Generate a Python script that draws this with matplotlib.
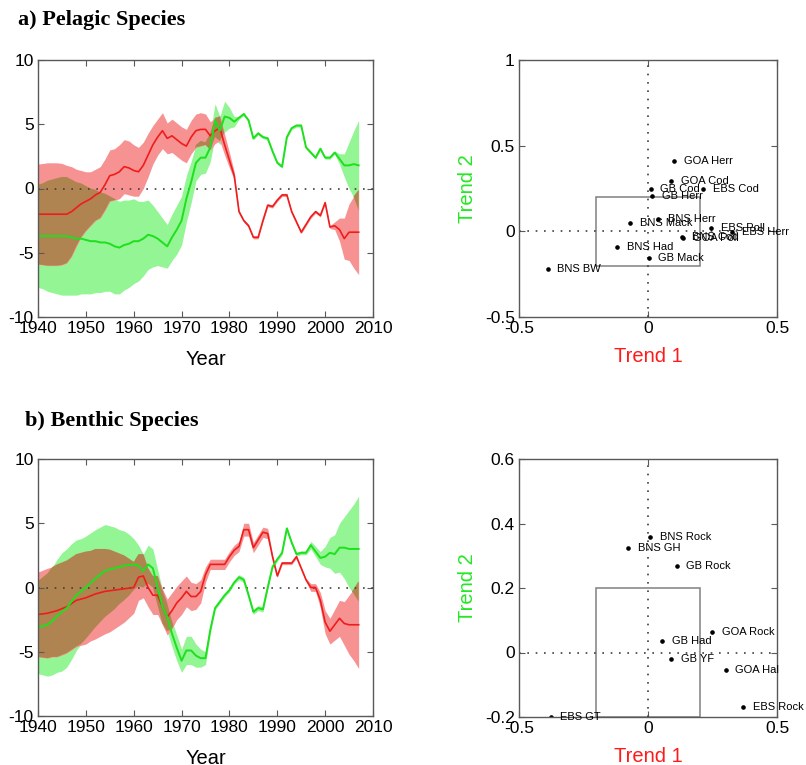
import numpy as np
import matplotlib
matplotlib.use("Agg")
from matplotlib import pyplot as plt
from matplotlib.patches import Rectangle

plt.rcParams["font.family"] = ["Liberation Sans", "DejaVu Sans"]
plt.rcParams["axes.unicode_minus"] = False

# Años de las series de tendencias
anios = np.arange(1940, 2008)

# a) Especies pelágicas: tendencias comunes y su intervalo (+/-)
pel_t1 = [-2.0, -2.0, -2.0, -2.0, -2.0, -2.0, -2.0, -1.8, -1.5, -1.2,
          -1.0, -0.8, -0.5, -0.3, 0.3, 1.0, 1.1, 1.3, 1.7, 1.6,
          1.4, 1.3, 1.8, 2.6, 3.4, 4.0, 4.5, 3.9, 4.1, 3.8,
          3.5, 3.3, 4.0, 4.5, 4.6, 4.6, 4.1, 4.5, 4.7, 3.4,
          2.2, 1.0, -1.8, -2.5, -2.9, -3.8, -3.8, -2.5, -1.3, -1.4,
          -0.9, -0.5, -0.5, -1.8, -2.6, -3.4, -2.8, -2.2, -1.8, -2.1,
          -1.1, -3.0, -2.9, -3.2, -3.9, -3.4, -3.4, -3.4]
pel_t1_ic = [3.9, 3.95, 4.0, 4.0, 4.0, 3.95, 3.8, 3.5, 3.0, 2.6,
             2.3, 2.1, 2.0, 2.0, 2.0, 2.0, 2.0, 2.1, 2.1, 2.1,
             2.0, 1.9, 1.8, 1.7, 1.5, 1.4, 1.4, 1.2, 1.3, 1.3,
             1.3, 1.3, 1.3, 1.3, 1.3, 1.2, 1.1, 1.0, 1.0, 0.8,
             0.6, 0.3, 0.12, 0.12, 0.12, 0.12, 0.12, 0.12, 0.12, 0.12,
             0.12, 0.12, 0.12, 0.12, 0.12, 0.12, 0.12, 0.12, 0.12, 0.12,
             0.12, 0.12, 0.3, 0.9, 1.6, 2.2, 2.8, 3.3]
pel_t2 = [-3.7, -3.7, -3.7, -3.7, -3.7, -3.7, -3.7, -3.8, -3.9, -3.9,
          -4.0, -4.1, -4.1, -4.2, -4.2, -4.3, -4.5, -4.6, -4.4, -4.3,
          -4.1, -4.1, -3.9, -3.6, -3.7, -3.9, -4.2, -4.5, -3.8, -3.2,
          -2.5, -0.8, 0.5, 2.0, 2.4, 2.4, 3.2, 5.3, 4.5, 5.6,
          5.5, 5.2, 5.5, 5.8, 5.3, 3.9, 4.3, 4.0, 3.9, 2.9,
          2.0, 1.7, 4.0, 4.7, 4.9, 4.9, 3.2, 2.8, 2.4, 3.1,
          2.4, 2.4, 2.8, 2.3, 1.8, 1.8, 1.9, 1.8]
pel_t2_ic = [4.0, 4.1, 4.3, 4.4, 4.5, 4.6, 4.6, 4.5, 4.4, 4.3,
             4.2, 4.1, 4.0, 3.9, 3.8, 3.7, 3.7, 3.6, 3.5, 3.4,
             3.3, 3.1, 2.9, 2.7, 2.4, 2.1, 1.9, 1.7, 1.8, 1.9,
             1.9, 1.8, 1.6, 1.4, 1.3, 1.2, 1.1, 1.3, 1.1, 1.2,
             0.8, 0.4, 0.12, 0.12, 0.12, 0.12, 0.12, 0.12, 0.12, 0.12,
             0.12, 0.12, 0.12, 0.12, 0.12, 0.12, 0.12, 0.12, 0.12, 0.12,
             0.12, 0.12, 0.12, 0.4, 0.9, 1.8, 2.6, 3.5]

# b) Especies bentónicas
ben_t1 = [-2.1, -2.05, -2.0, -1.9, -1.8, -1.65, -1.5, -1.25, -1.0, -0.9,
          -0.8, -0.65, -0.5, -0.4, -0.3, -0.25, -0.2, -0.15, -0.1, -0.05,
          0.0, 0.8, 0.9, 0.0, -0.6, -0.6, -1.5, -2.3, -1.8, -1.2,
          -0.8, -0.3, -0.7, -0.7, -0.3, 1.0, 1.8, 1.8, 1.8, 1.8,
          2.4, 2.9, 3.2, 4.5, 4.5, 3.1, 3.7, 4.3, 4.2, 2.4,
          0.9, 1.9, 1.9, 1.9, 2.4, 1.5, 0.6, 0.0, 0.0, -1.0,
          -2.7, -3.4, -2.9, -2.4, -2.8, -2.9, -2.9, -2.9]
ben_t1_ic = [3.3, 3.4, 3.5, 3.5, 3.6, 3.6, 3.6, 3.6, 3.6, 3.6,
             3.6, 3.5, 3.5, 3.4, 3.3, 3.2, 3.0, 2.8, 2.6, 2.3,
             2.0, 1.8, 1.7, 1.5, 1.5, 1.5, 1.4, 1.4, 1.4, 1.3,
             1.3, 1.2, 1.1, 1.0, 0.9, 0.6, 0.4, 0.4, 0.4, 0.4,
             0.4, 0.4, 0.4, 0.5, 0.5, 0.4, 0.4, 0.4, 0.4, 0.2,
             0.12, 0.12, 0.12, 0.12, 0.12, 0.12, 0.12, 0.3, 0.3, 0.6,
             0.9, 1.0, 1.2, 1.4, 1.7, 2.3, 2.8, 3.4]
ben_t2 = [-3.1, -3.0, -2.9, -2.6, -2.2, -1.9, -1.6, -1.1, -0.6, -0.3,
          0.0, 0.35, 0.7, 1.0, 1.3, 1.4, 1.5, 1.6, 1.7, 1.75,
          1.8, 1.7, 1.3, 1.8, 1.5, 0.0, -1.5, -2.3, -3.6, -4.7,
          -5.7, -4.9, -4.9, -5.3, -5.5, -5.5, -3.3, -1.6, -1.1, -0.6,
          -0.2, 0.4, 0.8, 0.6, -0.6, -1.9, -1.6, -1.7, 0.0, 1.6,
          2.2, 2.7, 4.6, 3.5, 2.6, 2.7, 2.7, 3.3, 2.8, 2.3,
          2.4, 2.7, 2.6, 3.1, 3.1, 3.0, 3.0, 3.0]
ben_t2_ic = [3.6, 3.8, 4.0, 4.2, 4.4, 4.6, 4.6, 4.5, 4.3, 4.1,
             4.0, 3.9, 3.8, 3.7, 3.6, 3.4, 3.2, 2.9, 2.7, 2.4,
             2.0, 1.6, 1.3, 1.5, 1.5, 1.4, 1.3, 1.1, 1.0, 1.0,
             0.9, 1.1, 1.1, 0.9, 0.7, 0.5, 0.3, 0.15, 0.15, 0.15,
             0.15, 0.15, 0.2, 0.2, 0.2, 0.2, 0.2, 0.2, 0.15, 0.15,
             0.15, 0.15, 0.15, 0.15, 0.15, 0.15, 0.15, 0.3, 0.4, 0.5,
             0.8, 1.2, 1.5, 1.9, 2.4, 3.0, 3.5, 4.1]

# Cargas de cada stock sobre las dos tendencias
pel_nombres = ["GOA Herr", "GOA Cod", "GB Cod", "EBS Cod", "GB Herr", "BNS Herr",
               "BNS Mack", "BNS Had", "GB Mack", "BNS BW", "EBS Poll", "EBS Herr",
               "BNS Cod", "GOA Poll"]
pel_x = [0.10, 0.09, 0.01, 0.215, 0.016, 0.04, -0.068, -0.121, 0.003, -0.389,
         0.244, 0.326, 0.131, 0.137]
pel_y = [0.41, 0.295, 0.249, 0.249, 0.208, 0.072, 0.047, -0.09, -0.154, -0.222,
         0.021, -0.002, -0.035, -0.037]

ben_nombres = ["BNS Rock", "BNS GH", "GB Rock", "GOA Rock", "GB Had", "GB YF",
               "GOA Hal", "EBS Rock", "EBS GT"]
ben_x = [0.008, -0.076, 0.111, 0.249, 0.054, 0.089, 0.301, 0.368, -0.377]
ben_y = [0.358, 0.323, 0.268, 0.063, 0.035, -0.021, -0.054, -0.168, -0.199]

ROJO = "#f01c1c"
VERDE = "#1ee01e"
BANDA_ROJA = "#f79292"
BANDA_VERDE = "#93f593"
CAFE = "#b08450"
MARCO = "0.35"


def estilo(ax):
    for s in ax.spines.values():
        s.set_color(MARCO)
        s.set_linewidth(1.0)
    ax.tick_params(direction="in", top=True, right=True, length=4,
                   color=MARCO, labelsize=12.5, pad=3)


def graficar_tendencias(ax, t1, t1_ic, t2, t2_ic):
    t1, t1_ic = np.array(t1), np.array(t1_ic)
    t2, t2_ic = np.array(t2), np.array(t2_ic)
    r_lo, r_hi = t1 - t1_ic, t1 + t1_ic
    g_lo, g_hi = t2 - t2_ic, t2 + t2_ic
    ax.fill_between(anios, g_lo, g_hi, color=BANDA_VERDE, lw=0)
    ax.fill_between(anios, r_lo, r_hi, color=BANDA_ROJA, lw=0)
    lo = np.maximum(r_lo, g_lo)
    hi = np.minimum(r_hi, g_hi)
    ax.fill_between(anios, lo, hi, where=hi > lo, interpolate=True, color=CAFE, lw=0)
    ax.axhline(0, color="0.25", ls=(0, (1, 4)), lw=1.2)
    ax.plot(anios, t1, color=ROJO, lw=1.2)
    ax.plot(anios, t2, color=VERDE, lw=1.4)
    ax.set_xlim(1940, 2010)
    ax.set_ylim(-10, 10)
    ax.set_xticks(range(1940, 2011, 10))
    ax.set_yticks([-10, -5, 0, 5, 10])
    ax.set_xlabel("Year", fontsize=14.5, labelpad=10)
    estilo(ax)


def graficar_cargas(ax, nombres, xs, ys, ylim, yticks, ylabels):
    ax.axhline(0, color="0.25", ls=(0, (1, 4)), lw=1.2)
    ax.axvline(0, color="0.25", ls=(0, (1, 4)), lw=1.2)
    ax.add_patch(Rectangle((-0.2, -0.2), 0.4, 0.4, fill=False, ec="0.5", lw=1.1))
    ax.plot(xs, ys, "o", color="k", ms=2.3, ls="none")
    for n, x, y in zip(nombres, xs, ys):
        ax.annotate(n, (x, y), xytext=(7, 0), textcoords="offset points",
                    va="center", ha="left", fontsize=8)
    ax.set_xlim(-0.5, 0.5)
    ax.set_ylim(*ylim)
    ax.set_xticks([-0.5, 0, 0.5])
    ax.set_xticklabels(["-0.5", "0", "0.5"])
    ax.set_yticks(yticks)
    ax.set_yticklabels(ylabels)
    ax.set_xlabel("Trend 1", color="#ff1a1a", fontsize=14.5, labelpad=8)
    ax.set_ylabel("Trend 2", color="#22e822", fontsize=14.5, labelpad=6)
    estilo(ax)


fig = plt.figure(figsize=(8.06, 7.65), dpi=100)
W, H = 806, 765

def caja(x0, y0, x1, y1):
    return [x0 / W, 1 - y1 / H, (x1 - x0) / W, (y1 - y0) / H]

ax1 = fig.add_axes(caja(38, 60, 373, 317))
ax2 = fig.add_axes(caja(519, 60, 777, 317))
ax3 = fig.add_axes(caja(38, 459, 373, 716))
ax4 = fig.add_axes(caja(519, 459, 777, 717))

graficar_tendencias(ax1, pel_t1, pel_t1_ic, pel_t2, pel_t2_ic)
graficar_tendencias(ax3, ben_t1, ben_t1_ic, ben_t2, ben_t2_ic)
graficar_cargas(ax2, pel_nombres, pel_x, pel_y, (-0.5, 1),
                [-0.5, 0, 0.5, 1], ["-0.5", "0", "0.5", "1"])
graficar_cargas(ax4, ben_nombres, ben_x, ben_y, (-0.2, 0.6),
                [-0.2, 0, 0.2, 0.4, 0.6], ["-0.2", "0", "0.2", "0.4", "0.6"])

fig.text(18 / W, 1 - 25 / H, "a) Pelagic Species", family="Liberation Serif",
         weight="bold", fontsize=16, va="baseline")
fig.text(25 / W, 1 - 426 / H, "b) Benthic Species", family="Liberation Serif",
         weight="bold", fontsize=16, va="baseline")

fig.savefig("out.png", dpi=100)
